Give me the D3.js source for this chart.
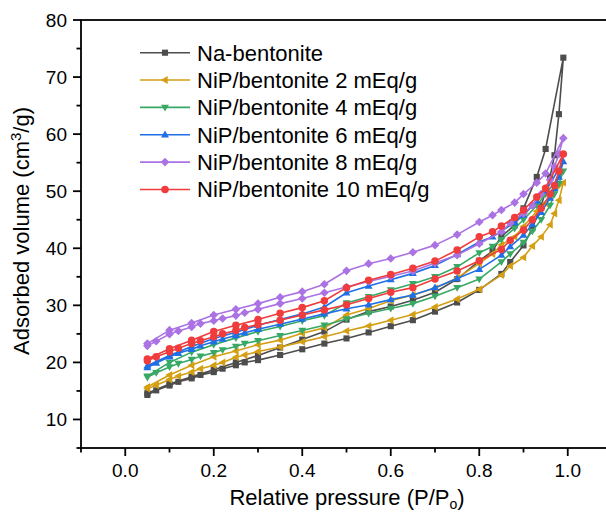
<!DOCTYPE html>
<html><head><meta charset="utf-8">
<script src="https://cdn.jsdelivr.net/npm/d3@7"></script>
<style>body{margin:0;background:#fff}svg{display:block}text{font-family:"Liberation Sans",Arial,sans-serif;fill:#000}</style>
</head><body><svg id="c" width="606" height="515"></svg>
<script>
// Relative pressure points: adsorption branch (up) and desorption branch (down)
const pAds = [0.05,0.07,0.10,0.12,0.15,0.17,0.20,0.22,0.25,0.27,0.30,0.35,0.40,0.45,0.50,0.55,0.60,0.65,0.70,0.75,0.80,0.85,0.87,0.90,0.92,0.94,0.96,0.97,0.98,0.99];
const pDes = [0.99,0.95,0.93,0.90,0.88,0.85,0.83,0.80,0.75,0.70,0.65,0.60,0.55,0.50,0.45,0.40,0.35,0.30,0.25,0.20,0.15,0.10,0.05];

const seriesNames = ["Na-bentonite","NiP/bentonite 2 mEq/g","NiP/bentonite 4 mEq/g","NiP/bentonite 6 mEq/g","NiP/bentonite 8 mEq/g","NiP/bentonite 10 mEq/g"];
const seriesColors = ["#4d4d4d","#d49f12","#38a865","#1f6fe6","#ab72e3","#f03c3c"];
const seriesSymbols = ["square","triLeft","triDown","triUp","diamond","circle"];

// Adsorbed volume (cm3/g)
const adsNa   = [14.3,15.1,15.95,16.6,17.2,17.8,18.3,18.9,19.5,20.0,20.4,21.3,22.3,23.3,24.2,25.25,26.35,27.4,28.9,30.5,32.7,35.5,37.6,40.5,43.5,47.5,52.5,56.3,63.5,73.4];
const desNa   = [73.4,57.4,52.5,47.0,44.0,42.1,39.5,37.8,34.6,32.3,30.9,29.8,28.9,27.5,25.4,24.0,22.6,21.2,20.0,18.7,17.5,16.2,14.6];
const ads2    = [15.4,16.0,17.0,17.6,18.3,18.9,19.5,20.0,20.9,21.3,21.9,22.7,23.6,24.5,25.5,26.4,27.4,28.4,29.7,31.1,32.8,35.3,36.9,38.4,40.4,42.0,44.1,46.1,48.4,51.5];
const des2    = [51.5,47.9,46.5,43.8,42.0,40.6,39.0,37.3,34.8,33.0,31.8,30.8,29.45,28.3,26.05,25.1,23.9,23.1,22.0,21.0,19.5,17.8,15.7];
const ads4    = [17.4,18.2,19.2,19.8,20.5,21.1,21.7,22.2,22.8,23.3,23.8,24.7,25.6,26.5,27.6,28.6,29.45,30.3,31.6,33.1,34.6,37.6,39.0,41.0,43.0,45.0,47.5,49.5,51.3,53.5];
const des4    = [53.5,49.5,47.5,45.0,43.5,41.5,40.3,39.2,36.75,35.0,33.8,32.7,31.5,30.4,28.2,27.3,26.3,25.4,24.3,23.1,21.8,20.0,17.6];
const ads6    = [19.1,19.9,21.0,21.6,22.3,22.9,23.6,24.1,24.7,25.2,25.8,26.7,27.6,28.5,29.4,30.1,31.0,31.8,33.1,34.7,36.3,38.8,40.3,42.3,44.2,46.3,48.8,50.5,52.5,55.2];
const des6    = [55.2,50.0,48.3,45.8,44.5,43.0,42.0,41.1,38.9,37.0,35.6,34.5,33.4,32.2,29.7,28.5,27.5,26.5,25.3,24.2,22.8,21.2,19.4];
const ads8    = [22.9,23.7,24.95,25.5,26.2,26.8,27.3,27.7,28.2,28.7,29.3,30.3,31.2,32.2,33.2,34.2,35.1,36.0,37.4,38.8,40.8,42.9,44.4,46.1,47.5,49.5,52.0,54.3,56.5,59.3];
const des8    = [59.3,53.1,51.5,49.5,48.0,46.7,45.8,44.6,42.4,40.55,39.3,38.2,37.3,36.05,33.7,32.4,31.4,30.3,29.3,28.3,26.9,25.65,23.3];
const ads10   = [20.3,21.0,21.85,22.5,23.3,23.8,24.5,25.0,25.6,26.1,26.6,27.4,28.3,29.2,30.1,31.2,32.3,33.1,34.6,36.0,37.8,39.8,41.4,43.2,45.0,47.0,49.5,51.0,53.5,56.5];
const des10   = [56.5,50.5,49.0,46.7,45.4,43.9,42.9,42.0,39.7,37.75,36.5,35.4,34.4,33.1,30.8,29.6,28.6,27.5,26.5,25.4,23.9,22.4,20.6];

const adsAll = [adsNa, ads2, ads4, ads6, ads8, ads10];
const desAll = [desNa, des2, des4, des6, des8, des10];

const xTicks = [0.0,0.2,0.4,0.6,0.8,1.0];
const xMinor = [-0.1,0.1,0.3,0.5,0.7,0.9,1.1];
const yTicks = [10,20,30,40,50,60,70,80];
const yMinor = [5,15,25,35,45,55,65,75];

const svg = d3.select("#c");
const L = 81, R = 612, T = 20, B = 448;
const x = d3.scaleLinear().domain([-0.1,1.1]).range([L,R]);
const y = d3.scaleLinear().domain([5,80]).range([B,T]);

function markerPath(type){
  const s = 3.6;
  switch(type){
    case "square": return `M${-s*0.85},${-s*0.85}H${s*0.85}V${s*0.85}H${-s*0.85}Z`;
    case "triUp": return `M0,${-s*1.15}L${s*1.1},${s*0.75}L${-s*1.1},${s*0.75}Z`;
    case "triDown": return `M0,${s*1.15}L${s*1.1},${-s*0.75}L${-s*1.1},${-s*0.75}Z`;
    case "triLeft": return `M${-s*1.15},0L${s*0.75},${-s*1.1}L${s*0.75},${s*1.1}Z`;
    case "diamond": return `M0,${-s*1.2}L${s*1.2},0L0,${s*1.2}L${-s*1.2},0Z`;
    default: return d3.symbol(d3.symbolCircle, 44)();
  }
}

// plot
const plot = svg.append("g");
const line = d3.line().x(d=>x(d[0])).y(d=>y(d[1]));
adsAll.forEach((ads,i)=>{
  const pts = pAds.map((p,k)=>[p,ads[k]]).concat(pDes.map((p,k)=>[p,desAll[i][k]]).slice(1));
  const g = plot.append("g");
  g.append("path").attr("d",line(pts)).attr("fill","none")
    .attr("stroke",seriesColors[i]).attr("stroke-width",1.6).attr("stroke-linejoin","round");
  g.selectAll("path.m").data(pts).join("path").attr("class","m")
    .attr("d",markerPath(seriesSymbols[i]))
    .attr("transform",d=>`translate(${x(d[0])},${y(d[1])})`)
    .attr("fill",seriesColors[i]);
});

// axes frame
const ax = svg.append("g").attr("stroke","#000").attr("stroke-width",1.8);
ax.append("rect").attr("x",L).attr("y",T).attr("width",R-L).attr("height",B-T).attr("fill","none");

// ticks
yTicks.forEach(v=>ax.append("line").attr("x1",L-8).attr("x2",L).attr("y1",y(v)).attr("y2",y(v)));
yMinor.forEach(v=>ax.append("line").attr("x1",L-4.5).attr("x2",L).attr("y1",y(v)).attr("y2",y(v)));
xTicks.forEach(v=>ax.append("line").attr("x1",x(v)).attr("x2",x(v)).attr("y1",B).attr("y2",B+8));
xMinor.forEach(v=>ax.append("line").attr("x1",x(v)).attr("x2",x(v)).attr("y1",B).attr("y2",B+4.5));

svg.append("g").selectAll("text").data(yTicks).join("text")
  .attr("x",L-14).attr("y",d=>y(d)).attr("dy","0.36em").attr("text-anchor","end")
  .attr("font-size",19).text(d=>d);
svg.append("g").selectAll("text").data(xTicks).join("text")
  .attr("x",d=>x(d)).attr("y",477).attr("text-anchor","middle")
  .attr("font-size",19).text(d=>d3.format(".1f")(d));

// axis titles
const xt = svg.append("text").attr("x",347).attr("y",505).attr("text-anchor","middle").attr("font-size",22);
xt.append("tspan").text("Relative pressure (P/P");
xt.append("tspan").attr("font-size",14).attr("dy",4).text("o");
xt.append("tspan").attr("dy",-4).text(")");

const yt = svg.append("text").attr("transform","translate(29,231) rotate(-90)").attr("text-anchor","middle").attr("font-size",22);
yt.append("tspan").text("Adsorbed volume (cm");
yt.append("tspan").attr("font-size",15).attr("dy",-8).text("3");
yt.append("tspan").attr("dy",8).text("/g)");

// legend
const lg = svg.append("g");
seriesNames.forEach((n,i)=>{
  const cy = 52.7 + i*27.35;
  lg.append("line").attr("x1",140).attr("x2",190).attr("y1",cy).attr("y2",cy)
    .attr("stroke",seriesColors[i]).attr("stroke-width",1.6);
  lg.append("path").attr("d",markerPath(seriesSymbols[i])).attr("transform",`translate(165,${cy})`).attr("fill",seriesColors[i]);
  lg.append("text").attr("x",197).attr("y",cy).attr("dy","0.36em").attr("font-size",22).text(n);
});
</script></body></html>
